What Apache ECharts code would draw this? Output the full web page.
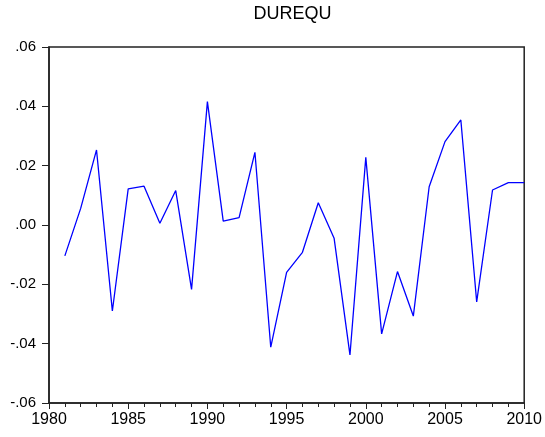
<!DOCTYPE html>
<html>
<head>
<meta charset="utf-8">
<script src="https://cdn.jsdelivr.net/npm/echarts@6/dist/echarts.min.js"></script>
<style>
html,body{margin:0;padding:0;background:#fff;}
#chart{width:545px;height:437px;}
</style>
</head>
<body>
<div id="chart"></div>
<script>
const years = [1981,1982,1983,1984,1985,1986,1987,1988,1989,1990,1991,1992,1993,1994,1995,1996,1997,1998,1999,2000,2001,2002,2003,2004,2005,2006,2007,2008,2009,2010];
const durequ = [-0.0104,0.0056,0.0253,-0.0290,0.0122,0.0131,0.0006,0.0116,-0.0217,0.0416,0.0013,0.0025,0.0245,-0.0412,-0.0160,-0.0092,0.0075,-0.0045,-0.0438,0.0228,-0.0367,-0.0157,-0.0307,0.0129,0.0281,0.0354,-0.0259,0.0118,0.0143,0.0143];
const titleText = 'DUREQU';
const xRange = [1980, 2010];
const yRange = [-0.06, 0.06];

const chart = echarts.init(document.getElementById('chart'), null, {renderer:'canvas'});
const fmtY = v => {
  const s = Math.abs(v).toFixed(2).replace(/^0/, '');
  return (v < -1e-9 ? '-' : '') + s;
};
chart.setOption({
  animation: false,
  backgroundColor: '#fff',
  title: {
    text: titleText,
    left: 287.5,
    textAlign: 'center',
    top: 0,
    textStyle: {fontFamily: 'Liberation Sans, Arial, sans-serif', fontSize: 18, fontWeight: 'normal', color: '#000'}
  },
  grid: {left: 49, right: 19, top: 47, bottom: 34, show: true, borderColor: '#222', borderWidth: 1.5, backgroundColor: 'transparent'},
  xAxis: {
    type: 'value', min: xRange[0], max: xRange[1], interval: 5,
    axisLine: {show: true, onZero: false, lineStyle: {color: '#222', width: 1.5}},
    axisTick: {show: true, inside: false, length: 6, lineStyle: {color: '#222', width: 1}},
    minorTick: {show: true, splitNumber: 5, length: 4, lineStyle: {color: '#222', width: 1}},
    splitLine: {show: false},
    axisLabel: {margin: 9, color: '#000', fontSize: 16, fontFamily: 'Liberation Sans, Arial, sans-serif', formatter: v => String(v)}
  },
  yAxis: {
    type: 'value', min: yRange[0], max: yRange[1], interval: 0.02,
    axisLine: {show: true, onZero: false, lineStyle: {color: '#222', width: 1.5}},
    axisTick: {show: true, inside: false, length: 7, lineStyle: {color: '#222', width: 1}},
    splitLine: {show: false},
    axisLabel: {margin: 13, color: '#000', fontSize: 15, fontFamily: 'Liberation Sans, Arial, sans-serif', formatter: fmtY}
  },
  series: [{
    type: 'line',
    data: years.map((y, i) => [y, durequ[i]]),
    showSymbol: false,
    lineStyle: {color: '#0000ff', width: 1.3},
    itemStyle: {color: '#0000ff'}
  }]
});
</script>
</body>
</html>
